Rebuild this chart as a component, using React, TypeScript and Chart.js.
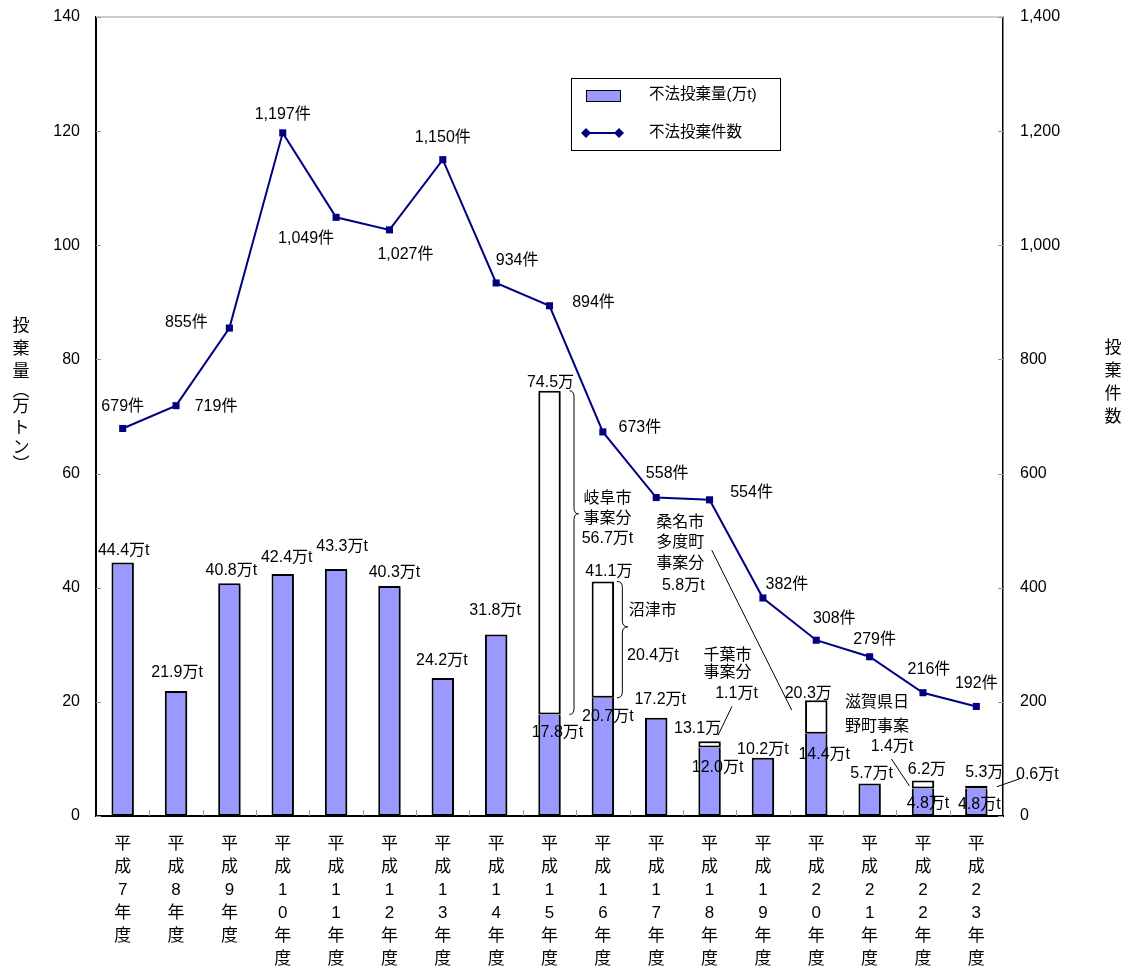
import { useEffect, useRef } from "react";
import { Chart, registerables } from "chart.js";

Chart.register(...registerables);

// Fiscal years (Heisei era)
const fiscalYears = [
  "平成7年度", "平成8年度", "平成9年度", "平成10年度", "平成11年度", "平成12年度",
  "平成13年度", "平成14年度", "平成15年度", "平成16年度", "平成17年度", "平成18年度",
  "平成19年度", "平成20年度", "平成21年度", "平成22年度", "平成23年度",
];

// Dumped amount excluding large single cases (10k tonnes)
const dumpedAmount = [44.4, 21.9, 40.8, 42.4, 43.3, 40.3, 24.2, 31.8, 17.8, 20.7, 17.2, 12.0, 10.2, 14.4, 5.7, 4.8, 4.8];
// Total amount including large single cases (10k tonnes)
const totalAmount: (number | null)[] = [null, null, null, null, null, null, null, null, 74.5, 41.1, null, 13.1, null, 20.3, null, 6.2, 5.3];
// Amount of the large single cases (10k tonnes)
const largeCaseAmount: (number | null)[] = [null, null, null, null, null, null, null, null, 56.7, 20.4, null, 1.1, null, 5.8, null, 1.4, 0.6];
// Names of the large single cases
const largeCaseNames: (string[] | null)[] = [
  null, null, null, null, null, null, null, null,
  ["岐阜市", "事案分"], ["沼津市"], null, ["千葉市", "事案分"], null,
  ["桑名市", "多度町", "事案分"], null, ["滋賀県日", "野町事案"], [],
];
// Number of illegal dumping cases
const dumpingCases = [679, 719, 855, 1197, 1049, 1027, 1150, 934, 894, 673, 558, 554, 382, 308, 279, 216, 192];

const amountAxis = { min: 0, max: 140, step: 20 };
const caseAxis = { min: 0, max: 1400, step: 200 };

const leftTitle = ["投", "棄", "量", "︵", "万", "ト", "ン", "︶"];
const rightTitle = ["投", "棄", "件", "数"];

// ---- label placement (pixel offsets) ----
const caseLabelOffset: [number, number][] = [
  [0, -22], [40, 1], [-43, -5], [0, -18], [-30, 21], [16, 25], [0, -22], [21, -22], [44, -3],
  [37, -4], [11, -24], [42, -7], [24, -13], [18, -22], [5, -17], [6, -23], [0, -23],
];
const baseLabelOffset: [number, number][] = [
  [1, -12], [1, -18], [2, -13], [4, -16], [6, -22], [5, -13], [-1, -17], [-1, -24], [8, 18],
  [5, 19], [4, -18], [8, 20], [0, -8], [8, 21], [2, -10], [5, 15], [3, 16],
];
const totalLabelOffset: Record<number, [number, number]> = {
  8: [1, -8], 9: [6, -10], 11: [-12, -13], 13: [-8, -7], 15: [4, -11], 16: [8, -13],
};
const noteLineOffset: Record<number, [number, number][]> = {
  8: [[58, 108], [58, 128], [58, 148]],
  9: [[50, 29], [50, 74]],
  11: [[18, -86], [18, -69], [27, -48]],
  13: [[-136, -178], [-136, -158], [-136, -137], [-133, -115]],
  15: [[-46, -78], [-46, -54], [-31, -34]],
  16: [[61, -11]],
};
const noteLeader: Record<number, [number, number, number, number]> = {
  11: [22.5, -35, 8.5, -6],
  13: [-104.5, -150, -24.5, 10],
  15: [-31.5, -21.6, -13.5, 5.4],
  16: [20.5, 1, 43.5, -7],
};
const noteBrace: Record<number, { dx: number; w: number; tip: number }> = {
  8: { dx: 20, w: 9, tip: 0.38 },
  9: { dx: 14, w: 11, tip: 0.39 },
};

const FONT = '"Liberation Sans", "Noto Sans CJK JP", sans-serif';
const NAVY = "#000080";
const BAR_FILL = "#9999ff";

const fmt1 = (v: number) => v.toFixed(1);

function drawText(ctx: CanvasRenderingContext2D, s: string, x: number, y: number, size = 16, align: CanvasTextAlign = "center") {
  ctx.font = `${size}px ${FONT}`;
  ctx.fillStyle = "#000";
  ctx.textAlign = align;
  ctx.textBaseline = "middle";
  ctx.fillText(s, x, y);
}

function drawBrace(ctx: CanvasRenderingContext2D, x: number, y1: number, y2: number, ym: number, w: number) {
  const h = w / 2;
  const r = 6;
  ctx.beginPath();
  ctx.moveTo(x, y1);
  ctx.quadraticCurveTo(x + h, y1, x + h, y1 + r);
  ctx.lineTo(x + h, ym - r);
  ctx.quadraticCurveTo(x + h, ym, x + w, ym);
  ctx.quadraticCurveTo(x + h, ym, x + h, ym + r);
  ctx.lineTo(x + h, y2 - r);
  ctx.quadraticCurveTo(x + h, y2, x, y2);
  ctx.stroke();
}

const barShadow = {
  id: "barShadow",
  beforeDatasetDraw(chart: any, args: any) {
    if (args.meta.type !== "bar") return;
    const ctx = chart.ctx;
    ctx.save();
    ctx.shadowColor = "rgba(0,0,0,0.3)";
    ctx.shadowOffsetX = 2;
    ctx.shadowOffsetY = 2;
    ctx.shadowBlur = 1;
  },
  afterDatasetDraw(chart: any, args: any) {
    if (args.meta.type !== "bar") return;
    chart.ctx.restore();
  },
};

const frameDecor = {
  id: "frameDecor",
  beforeDatasetsDraw(chart: any) {
    const { ctx, chartArea: a, scales } = chart;
    ctx.save();
    // top frame line
    ctx.strokeStyle = "#cccccc";
    ctx.lineWidth = 2;
    ctx.beginPath();
    ctx.moveTo(a.left, a.top);
    ctx.lineTo(a.right, a.top);
    ctx.stroke();
    // inward tick marks
    ctx.strokeStyle = "#999999";
    ctx.lineWidth = 1;
    ctx.beginPath();
    for (let v = amountAxis.min; v <= amountAxis.max; v += amountAxis.step) {
      const y = Math.round(scales.y.getPixelForValue(v)) + 0.5;
      ctx.moveTo(a.left, y);
      ctx.lineTo(a.left + 5, y);
    }
    for (let v = caseAxis.min; v <= caseAxis.max; v += caseAxis.step) {
      const y = Math.round(scales.y1.getPixelForValue(v)) + 0.5;
      ctx.moveTo(a.right - 5, y);
      ctx.lineTo(a.right, y);
    }
    const cw = (a.right - a.left) / fiscalYears.length;
    for (let i = 1; i < fiscalYears.length; i++) {
      const x = Math.round(a.left + cw * i) + 0.5;
      ctx.moveTo(x, a.bottom);
      ctx.lineTo(x, a.bottom - 6);
    }
    ctx.stroke();
    ctx.restore();
  },
};

const annotations = {
  id: "annotations",
  afterDatasetsDraw(chart: any) {
    const { ctx, scales } = chart;
    const xs = scales.x;
    const ys = scales.y;
    const yr = scales.y1;
    ctx.save();

    // case count labels
    dumpingCases.forEach((n, i) => {
      const [dx, dy] = caseLabelOffset[i];
      drawText(ctx, `${n.toLocaleString("en-US")}件`, xs.getPixelForValue(i) + dx, yr.getPixelForValue(n) + dy);
    });

    // amount labels
    dumpedAmount.forEach((v, i) => {
      const cx = xs.getPixelForValue(i);
      const [dx, dy] = baseLabelOffset[i];
      drawText(ctx, `${fmt1(v)}万t`, cx + dx, ys.getPixelForValue(v) + dy);
      const total = totalAmount[i];
      if (total != null) {
        const [tx, ty] = totalLabelOffset[i];
        const topY = ys.getPixelForValue(total);
        drawText(ctx, `${fmt1(total)}万`, cx + tx, topY + ty);

        const names = largeCaseNames[i] || [];
        const lines = [...names, `${fmt1(largeCaseAmount[i] as number)}万t`];
        const pos = noteLineOffset[i];
        lines.forEach((s, k) => drawText(ctx, s, cx + pos[k][0], topY + pos[k][1]));

        ctx.strokeStyle = "#000";
        ctx.lineWidth = 1;
        const lead = noteLeader[i];
        if (lead) {
          ctx.beginPath();
          ctx.moveTo(cx + lead[0], topY + lead[1]);
          ctx.lineTo(cx + lead[2], topY + lead[3]);
          ctx.stroke();
        }
        const br = noteBrace[i];
        if (br) {
          const baseY = ys.getPixelForValue(v);
          drawBrace(ctx, cx + br.dx, topY, baseY, topY + (baseY - topY) * br.tip, br.w);
        }
      }
    });
    ctx.restore();
  },
  afterDraw(chart: any) {
    const { ctx } = chart;
    ctx.save();
    // axis titles, one character per line
    const leftY = [326, 349, 372, 391, 407, 428, 448, 465];
    leftTitle.forEach((c, k) => drawText(ctx, c, 21, leftY[k], 17));
    rightTitle.forEach((c, k) => drawText(ctx, c, 1113, 348 + k * 23, 17));

    // legend
    ctx.strokeStyle = "#000";
    ctx.lineWidth = 1;
    ctx.strokeRect(571.5, 78.5, 209, 72);
    ctx.fillStyle = BAR_FILL;
    ctx.fillRect(586, 90, 35, 12);
    ctx.strokeRect(586.5, 90.5, 34, 11);
    drawText(ctx, "不法投棄量(万t)", 649, 95, 15.5, "left");
    ctx.strokeStyle = NAVY;
    ctx.lineWidth = 2;
    ctx.beginPath();
    ctx.moveTo(586, 133);
    ctx.lineTo(619, 133);
    ctx.stroke();
    ctx.fillStyle = NAVY;
    [586, 619].forEach((x) => {
      ctx.beginPath();
      ctx.moveTo(x, 128);
      ctx.lineTo(x + 5, 133);
      ctx.lineTo(x, 138);
      ctx.lineTo(x - 5, 133);
      ctx.closePath();
      ctx.fill();
    });
    drawText(ctx, "不法投棄件数", 649, 133, 15.5, "left");
    ctx.restore();
  },
};

// keep vertical axes from reserving extra room above and below the plot
const fitVertical = (width: number) => (s: any) => {
  s.width = width;
  s.paddingTop = 0;
  s.paddingBottom = 0;
};

export default function App() {
  const ref = useRef<HTMLCanvasElement>(null);

  useEffect(() => {
    document.body.style.margin = "0";
    const canvas = ref.current;
    if (!canvas) return;
    const addedAmount = totalAmount.map((t, i) => (t == null ? null : +(t - dumpedAmount[i]).toFixed(1)));
    const tickFont = { family: FONT, size: 16 };
    const barCommon = {
      type: "bar" as const,
      yAxisID: "y",
      borderColor: "#000",
      borderWidth: 2,
      stack: "amount",
      order: 1,
      barPercentage: 0.42,
      categoryPercentage: 1,
    };
    const chart = new Chart(canvas, {
      type: "bar",
      data: {
        labels: fiscalYears.map((s) => Array.from(s)),
        datasets: [
          {
            type: "line",
            label: "不法投棄件数",
            data: dumpingCases,
            yAxisID: "y1",
            borderColor: NAVY,
            backgroundColor: NAVY,
            borderWidth: 2,
            pointStyle: "rect",
            pointRadius: 5,
            pointBorderWidth: 0,
            tension: 0,
            order: 0,
          } as any,
          {
            ...barCommon,
            label: "不法投棄量(万t)",
            data: dumpedAmount,
            backgroundColor: BAR_FILL,
            // the segment stacked above supplies the dividing line
            borderSkipped: (c: any) => (totalAmount[c.dataIndex] != null ? "end" : false),
          } as any,
          { ...barCommon, label: "大規模事案", data: addedAmount, backgroundColor: "#ffffff", borderSkipped: false },
        ],
      },
      options: {
        animation: false,
        responsive: false,
        layout: { padding: { top: 17, left: 0, right: 0, bottom: 0 } },
        plugins: { legend: { display: false }, tooltip: { enabled: false } },
        scales: {
          x: {
            stacked: true,
            grid: { display: false, drawTicks: false },
            border: { display: true, color: "#000", width: 2 },
            ticks: {
              color: "#000",
              font: { family: FONT, size: 17, lineHeight: 23 / 17 },
              padding: 17,
              maxRotation: 0,
              minRotation: 0,
              autoSkip: false,
            },
            afterFit: (s: any) => { s.height = 151; s.paddingLeft = 0; s.paddingRight = 0; },
          },
          y: {
            position: "left",
            stacked: true,
            min: amountAxis.min,
            max: amountAxis.max,
            grid: { display: false, drawTicks: false },
            border: { display: true, color: "#000", width: 2 },
            ticks: { stepSize: amountAxis.step, color: "#000", font: tickFont, padding: 16 },
            afterFit: fitVertical(96),
          },
          y1: {
            position: "right",
            min: caseAxis.min,
            max: caseAxis.max,
            grid: { display: false, drawTicks: false },
            border: { display: true, color: "#000", width: 1.5 },
            ticks: {
              stepSize: caseAxis.step,
              color: "#000",
              font: tickFont,
              padding: 17,
              callback: (v: any) => Number(v).toLocaleString("en-US"),
            },
            afterFit: fitVertical(122),
          },
        },
      },
      plugins: [frameDecor, barShadow, annotations],
    });
    return () => chart.destroy();
  }, []);

  return (
    <div style={{ width: 1125, height: 967, background: "#fff" }}>
      <canvas ref={ref} width={1125} height={967} style={{ display: "block" }} />
    </div>
  );
}
